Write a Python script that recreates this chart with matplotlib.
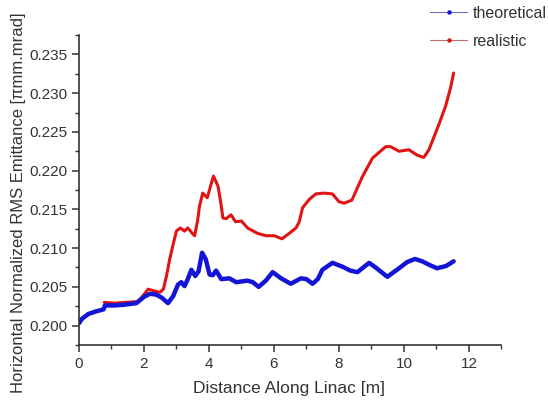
import matplotlib
matplotlib.use("Agg")
import matplotlib.pyplot as plt
from matplotlib.ticker import MultipleLocator
from matplotlib.lines import Line2D

plt.rcParams['font.family'] = ['Liberation Sans', 'DejaVu Sans']

# emittance along the linac, theoretical beam
x_theo = [0.0, 0.1, 0.29, 0.5, 0.76, 0.8, 1.1, 1.41, 1.77, 2.0, 2.18, 2.38, 2.55, 2.74,
          2.9, 3.05, 3.15, 3.25, 3.35, 3.46, 3.58, 3.68, 3.79, 3.9, 4.02, 4.12, 4.22,
          4.38, 4.63, 4.84, 5.0, 5.19, 5.35, 5.53, 5.75, 5.96, 6.22, 6.52, 6.83, 7.0,
          7.19, 7.35, 7.49, 7.8, 8.11, 8.35, 8.57, 8.93, 9.13, 9.49, 9.85, 10.1, 10.34,
          10.56, 10.8, 11.02, 11.3, 11.53]
e_theo = [0.2003, 0.2009, 0.2015, 0.2018, 0.2021, 0.2026, 0.2026, 0.2027, 0.2029, 0.2037,
          0.2041, 0.2040, 0.2036, 0.2029, 0.2038, 0.2053, 0.2056, 0.2051, 0.2060, 0.2072,
          0.2064, 0.2070, 0.2094, 0.2086, 0.2066, 0.2065, 0.2071, 0.2060, 0.2061, 0.2056,
          0.2057, 0.2058, 0.2056, 0.2050, 0.2058, 0.2069, 0.2061, 0.2054, 0.2061, 0.2060,
          0.2054, 0.2060, 0.2072, 0.2081, 0.2076, 0.2071, 0.2069, 0.2081, 0.2075, 0.2063,
          0.2074, 0.2082, 0.2086, 0.2083, 0.2078, 0.2074, 0.2077, 0.2083]

# emittance along the linac, realistic beam
x_real = [0.78, 1.1, 1.41, 1.82, 2.0, 2.13, 2.3, 2.49, 2.6, 2.7, 2.79, 2.9, 3.0, 3.12,
          3.25, 3.35, 3.47, 3.56, 3.65, 3.71, 3.81, 3.95, 4.05, 4.14, 4.28, 4.36, 4.43,
          4.53, 4.68, 4.82, 5.0, 5.19, 5.5, 5.76, 6.01, 6.25, 6.47, 6.68, 6.78, 6.88,
          7.09, 7.29, 7.55, 7.8, 8.0, 8.16, 8.4, 8.72, 9.03, 9.44, 9.59, 9.85, 10.15,
          10.41, 10.61, 10.77, 11.07, 11.28, 11.43, 11.53]
e_real = [0.2030, 0.2029, 0.2030, 0.2031, 0.2040, 0.2047, 0.2045, 0.2043, 0.2047, 0.2065,
          0.2085, 0.2105, 0.2122, 0.2126, 0.2122, 0.2126, 0.2120, 0.2116, 0.2135, 0.2154,
          0.2171, 0.2165, 0.2180, 0.2193, 0.2180, 0.2160, 0.2139, 0.2138, 0.2143, 0.2134,
          0.2135, 0.2126, 0.2119, 0.2116, 0.2116, 0.2112, 0.2119, 0.2126, 0.2134, 0.2152,
          0.2163, 0.2170, 0.2171, 0.2170, 0.2160, 0.2158, 0.2162, 0.2192, 0.2216, 0.2231,
          0.2231, 0.2225, 0.2227, 0.2220, 0.2217, 0.2227, 0.2259, 0.2283, 0.2306, 0.2326]

y_ticks = [0.200, 0.205, 0.210, 0.215, 0.220, 0.225, 0.230, 0.235]
x_ticks = [0, 2, 4, 6, 8, 10, 12]

blue = '#1414d6'
red = '#e01414'
grey = '#333333'

fig = plt.figure(figsize=(5.48, 4.03), dpi=100)
ax = fig.add_axes([0.144, 0.144, 0.771, 0.769])

ax.plot(x_real, e_real, color=red, lw=2.2, solid_capstyle='round', solid_joinstyle='round')
ax.plot(x_theo, e_theo, color=blue, lw=3.2, solid_capstyle='round', solid_joinstyle='round')

ax.set_xlim(0, 13)
ax.set_ylim(0.1975, 0.2375)
ax.set_xticks(x_ticks)
ax.set_xticklabels([str(v) for v in x_ticks])
ax.xaxis.set_minor_locator(MultipleLocator(1))
ax.set_yticks(y_ticks)
ax.set_yticklabels(['%.3f' % v for v in y_ticks])
ax.yaxis.set_minor_locator(MultipleLocator(0.0025))

for s in ['top', 'right']:
    ax.spines[s].set_visible(False)
for s in ['left', 'bottom']:
    ax.spines[s].set_color(grey)
    ax.spines[s].set_linewidth(1.2)

ax.tick_params(which='major', direction='out', length=5, width=1.1, color=grey,
               labelsize=11, labelcolor=grey)
ax.tick_params(which='minor', direction='out', length=3, width=1.0, color=grey)

ax.set_xlabel('Distance Along Linac [m]', fontsize=12.5, color=grey)
ax.set_ylabel('Horizontal Normalized RMS Emittance [πmm.mrad]', fontsize=12,
              color=grey)
ax.xaxis.set_label_coords(0.498, -0.115)
ax.yaxis.set_label_coords(-0.125, 0.46)

handles = [
    Line2D([], [], color='#7070b8', lw=0.8, marker='o', markersize=2.2,
           markerfacecolor=blue, markeredgecolor=blue),
    Line2D([], [], color='#b87070', lw=0.8, marker='o', markersize=2.2,
           markerfacecolor=red, markeredgecolor=red),
]
fig.legend(handles, ['theoretical', 'realistic'], loc='upper left',
           bbox_to_anchor=(0.785, 0.985), borderaxespad=0, borderpad=0,
           frameon=False, fontsize=11.5, labelcolor=grey, handlelength=2.3,
           handletextpad=0.35, labelspacing=0.8)

fig.savefig('out.png', dpi=100)
